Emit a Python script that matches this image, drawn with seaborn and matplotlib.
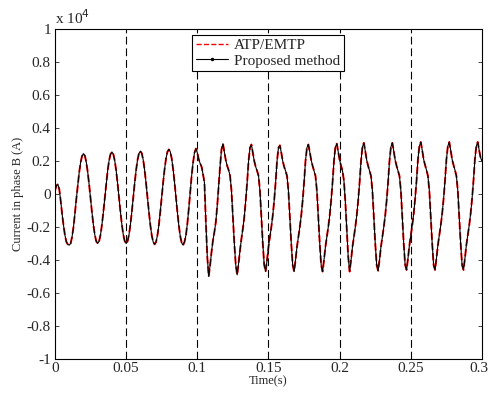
import numpy as np
import matplotlib
matplotlib.use("Agg")
import matplotlib.pyplot as plt
import matplotlib.transforms as mtransforms
import seaborn as sns
from matplotlib.lines import Line2D

# current in phase B, units of 1e4 A, sampled every 1 ms from 0 to 0.3 s
atp_emtp = [
    0.02, 0.05, 0.06, 0.03, -0.04, -0.12, -0.19, -0.25, -0.29, -0.305,      # 0-9
    -0.31, -0.30, -0.26, -0.20, -0.12, -0.03, 0.05, 0.13, 0.19, 0.23,       # 10-19
    0.245, 0.232, 0.193, 0.133, 0.057, -0.028, -0.112, -0.188, -0.248, -0.287,  # 20-29
    -0.30, -0.286, -0.247, -0.186, -0.108, -0.023, 0.063, 0.141, 0.202, 0.241,  # 30-39
    0.255, 0.241, 0.202, 0.141, 0.063, -0.023, -0.108, -0.186, -0.247, -0.286,  # 40-49
    -0.30, -0.286, -0.247, -0.185, -0.107, -0.02, 0.067, 0.145, 0.207, 0.246,   # 50-59
    0.26, 0.246, 0.206, 0.144, 0.065, -0.023, -0.110, -0.189, -0.251, -0.291,   # 60-69
    -0.305, -0.291, -0.250, -0.187, -0.106, -0.018, 0.071, 0.151, 0.214, 0.256,  # 70-79
    0.27, 0.256, 0.215, 0.150, 0.070, -0.02, -0.110, -0.190, -0.255, -0.296,    # 80-89
    -0.31, -0.29, -0.25, -0.18, -0.09, 0.01, 0.11, 0.19, 0.25, 0.275,          # 90-99
    0.25, 0.21, 0.185, 0.165, 0.12, 0.07, -0.17, -0.38, -0.50, -0.43,          # 100-109
    -0.35, -0.28, -0.23, -0.17, -0.07, 0.05, 0.17, 0.27, 0.305, 0.255,         # 110-119
    0.205, 0.17, 0.145, 0.11, 0.02, -0.14, -0.30, -0.43, -0.49, -0.42,         # 120-129
    -0.34, -0.27, -0.21, -0.14, -0.04, 0.07, 0.20, 0.28, 0.30, 0.25,           # 130-139
    0.20, 0.165, 0.14, 0.11, 0.02, -0.14, -0.30, -0.43, -0.47, -0.40,          # 140-149
    -0.32, -0.26, -0.20, -0.13, -0.04, 0.07, 0.20, 0.28, 0.295, 0.25,          # 150-159
    0.20, 0.165, 0.14, 0.11, 0.02, -0.14, -0.30, -0.43, -0.47, -0.40,          # 160-169
    -0.32, -0.26, -0.20, -0.13, -0.04, 0.07, 0.20, 0.28, 0.30, 0.255,          # 170-179
    0.205, 0.17, 0.14, 0.11, 0.02, -0.14, -0.30, -0.43, -0.47, -0.40,          # 180-189
    -0.32, -0.26, -0.20, -0.13, -0.04, 0.07, 0.20, 0.285, 0.305, 0.255,        # 190-199
    0.205, 0.17, 0.14, 0.08, -0.05, -0.22, -0.38, -0.47, -0.40, -0.32,         # 200-209
    -0.26, -0.20, -0.13, -0.04, 0.07, 0.20, 0.285, 0.31, 0.26, 0.205,          # 210-219
    0.17, 0.14, 0.11, 0.02, -0.14, -0.30, -0.43, -0.465, -0.40, -0.32,         # 220-229
    -0.26, -0.20, -0.13, -0.04, 0.07, 0.20, 0.285, 0.31, 0.26, 0.205,          # 230-239
    0.17, 0.14, 0.11, 0.02, -0.14, -0.30, -0.43, -0.46, -0.39, -0.31,          # 240-249
    -0.25, -0.19, -0.12, -0.03, 0.08, 0.21, 0.29, 0.315, 0.265, 0.21,          # 250-259
    0.175, 0.145, 0.11, 0.02, -0.14, -0.30, -0.43, -0.46, -0.39, -0.31,        # 260-269
    -0.25, -0.19, -0.12, -0.03, 0.08, 0.21, 0.29, 0.315, 0.265, 0.21,          # 270-279
    0.175, 0.145, 0.11, 0.02, -0.14, -0.30, -0.43, -0.46, -0.39, -0.31,        # 280-289
    -0.25, -0.19, -0.12, -0.03, 0.08, 0.21, 0.29, 0.315, 0.265, 0.22,          # 290-299
    0.20,                                                                      # 300
]
# the proposed method overlays the ATP/EMTP curve
proposed = list(atp_emtp)
time_s = np.linspace(0, 0.3, len(atp_emtp))

marker_times = [0.05, 0.1, 0.15, 0.2, 0.25]
x_ticks = [0, 0.05, 0.1, 0.15, 0.2, 0.25, 0.3]
x_labels = ["0", "0.05", "0.1", "0.15", "0.2", "0.25", "0.3"]
y_ticks = [-1, -0.8, -0.6, -0.4, -0.2, 0, 0.2, 0.4, 0.6, 0.8, 1]
y_labels = ["-1", "-0.8", "-0.6", "-0.4", "-0.2", "0", "0.2", "0.4", "0.6", "0.8", "1"]

sns.set_style("ticks")
plt.rcParams["font.family"] = ["Liberation Serif", "DejaVu Serif"]

fig = plt.figure(figsize=(4.9, 3.94), dpi=100)
ax = fig.add_axes([0.1122, 0.0888, 0.8715, 0.8376])

for xv in marker_times:
    ax.axvline(xv, color="black", lw=0.8, dashes=(7, 3.5), zorder=1)

sns.lineplot(x=time_s, y=atp_emtp, ax=ax, color="red", lw=1.4,
             linestyle="--", zorder=2)
sns.lineplot(x=time_s, y=proposed, ax=ax, color="black", lw=0.8, zorder=3)

ax.set_xlim(0, 0.3)
ax.set_ylim(-1, 1)
ax.set_xticks(x_ticks)
ax.set_xticklabels(x_labels)
ax.set_yticks(y_ticks)
ax.set_yticklabels(y_labels)
ax.tick_params(direction="in", length=3, width=0.6, labelsize=11,
               top=True, right=True, pad=3)
ax.tick_params(axis="x", pad=2)
for sp in ax.spines.values():
    sp.set_visible(True)
    sp.set_linewidth(0.8)
    sp.set_color("black")

# nudge the last x label so it stays inside the figure
last_lbl = ax.get_xticklabels()[-1]
last_lbl.set_transform(last_lbl.get_transform()
                       + mtransforms.ScaledTranslation(-2 / 72, 0, fig.dpi_scale_trans))

ax.set_xlabel("Time(s)", fontsize=9, labelpad=0)
ax.set_ylabel("Current in phase B (A)", fontsize=9, labelpad=2)
ax.text(0.0, 1.006, r"x 10$^{4}$", transform=ax.transAxes, fontsize=11,
        ha="left", va="bottom")

handles = [
    Line2D([], [], color="red", lw=1.0, linestyle="--"),
    Line2D([], [], color="black", lw=0.8, marker=".", markersize=3),
]
leg = ax.legend(handles, ["ATP/EMTP", "Proposed method"], loc="upper center",
                bbox_to_anchor=(0.4985, 0.982), fontsize=11, frameon=True,
                fancybox=False, edgecolor="black", framealpha=1,
                handlelength=2.1, handletextpad=0.4, borderpad=0.25,
                labelspacing=0.1, borderaxespad=0)
leg.get_frame().set_linewidth(0.8)

fig.savefig("out.png", dpi=100)
